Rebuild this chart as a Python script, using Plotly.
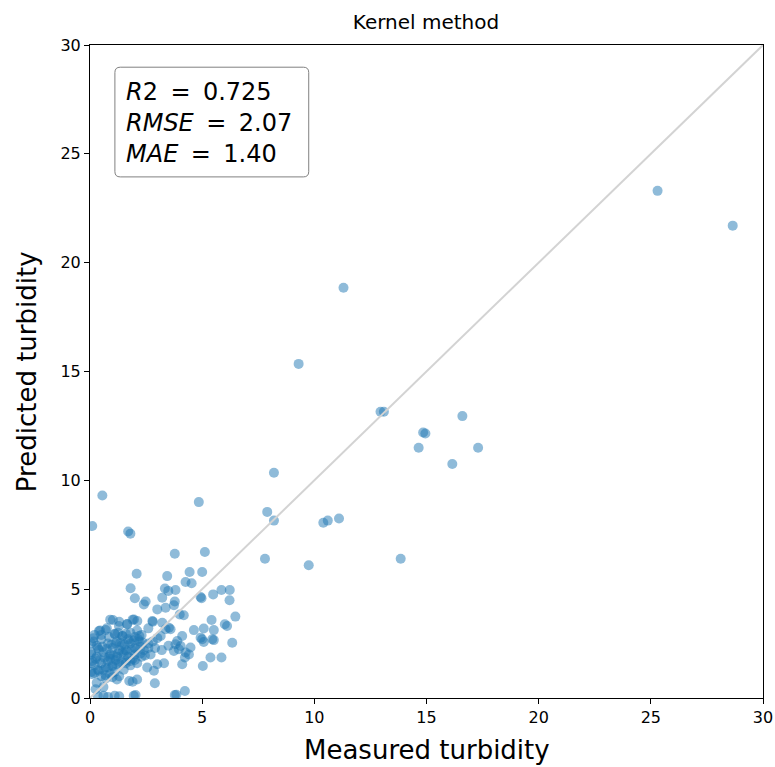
import plotly.graph_objects as go

# Measured (x) vs predicted (y) turbidity
measured = [
    25.3, 28.65, 11.3, 9.3, 12.95, 13.1, 16.6, 14.85, 14.95, 14.65, 17.3, 16.15, 8.2, 7.9, 8.2,
    10.4, 10.6, 11.1, 9.75, 7.8, 13.85, 0.1, 0.55, 4.85, 1.7, 1.8,
    3.78, 5.12, 2.08, 3.44, 4.44, 5.0, 4.26, 4.53, 1.81, 3.34, 3.49, 3.81, 2.0, 2.48, 3.22, 3.78,
    4.93, 4.97, 5.49, 5.86, 6.23, 6.22, 3.0, 3.37, 3.74, 4.0, 4.18, 2.78, 3.22, 3.52, 2.11, 1.02,
    1.29, 1.66, 0.4, 0.7, 1.11, 1.44, 5.42, 6.48, 6.01, 6.11, 4.63, 5.07, 5.52, 4.11, 5.0, 5.45,
    3.37, 3.59, 6.34, 3.81, 4.04, 4.48, 4.26, 4.41, 5.37, 5.86, 4.11, 5.03, 2.89, 4.23, 3.78, 2.03,
    3.89, 4.93, 5.07, 5.52, 3.96, 4.23, 2.4, 1.96, 3.15, 3.74,
    0.9, 1.3, 1.65, 0.45, 0.75, 1.1, 1.45, 1.9, 2.1, 2.3, 2.8, 2.6, 1.8, 2.0,
    0.15, 0.3, 0.5, 0.8, 1.0, 1.2, 1.4, 1.6, 1.8, 2.0, 2.2, 2.4, 2.6, 2.8, 3.0, 2.0, 1.7, 1.5,
    1.2, 0.9, 0.6, 0.3, 0.1, 0.2, 0.5, 0.8, 1.0, 1.3, 1.6, 1.9, 2.1, 2.3, 2.55, 2.85, 3.0, 3.3,
    0.05, 0.4, 0.7, 1.1, 1.5, 1.8, 2.7, 3.2, 3.5, 2.9, 1.3, 0.9, 0.35,
    0.1, 0.3, 0.5, 0.7, 0.9, 1.2, 1.3, 1.75, 1.9, 2.1, 0.25, 0.6,
    0.35, 0.6, 0.8, 1.1, 1.3, 1.95, 3.85, 0.2, 1.6, 2.25, 2.45, 1.15,
    0.05, 0.05, 0.05, 0.05, 0.25, 0.45, 0.65, 0.85, 1.05, 1.25, 1.45, 1.65, 1.85, 2.05, 2.25,
    0.35, 0.55, 0.75, 0.95, 1.15, 1.35, 1.55, 1.75, 1.95, 2.15, 2.35, 0.2, 0.4, 0.6, 0.8,
    1.0, 1.2, 1.4, 1.6, 1.8, 2.0, 0.15, 0.5, 0.85, 1.25, 1.7, 2.2, 2.6, 0.7, 1.0,
]
predicted = [
    23.3, 21.7, 18.85, 15.35, 13.15, 13.15, 12.95, 12.2, 12.15, 11.5, 11.5, 10.75, 10.35, 8.55, 8.15,
    8.05, 8.15, 8.25, 6.1, 6.4, 6.4, 7.9, 9.3, 9.0, 7.65, 7.55,
    6.63, 6.71, 5.71, 5.6, 5.79, 5.79, 5.33, 5.27, 5.04, 5.03, 4.92, 4.96, 4.58, 4.43, 4.61, 4.43,
    4.64, 4.58, 4.76, 4.96, 4.96, 4.49, 4.07, 4.15, 4.26, 3.84, 3.8, 3.54, 3.46, 3.23, 3.54, 3.58,
    3.31, 3.39, 3.08, 3.12, 2.93, 2.85, 3.58, 3.74, 3.39, 3.31, 3.12, 3.19, 3.12, 2.85, 2.7, 2.7,
    3.16, 3.16, 2.54, 2.47, 2.39, 2.32, 2.09, 2.0, 1.86, 1.86, 1.55, 1.47, 0.68, 0.32, 0.14, 0.14,
    2.62, 2.77, 2.57, 2.66, 2.24, 1.86, 4.3, 3.61, 2.85, 2.16,
    3.6, 3.5, 3.4, 3.1, 3.2, 2.95, 2.85, 3.6, 3.1, 2.9, 3.5, 3.2, 3.0, 2.8,
    2.6, 2.4, 2.7, 2.5, 2.3, 2.6, 2.4, 2.2, 2.5, 2.3, 2.6, 2.2, 2.5, 2.6, 2.75, 2.0, 1.9, 2.0,
    1.9, 2.0, 2.1, 1.9, 1.7, 1.5, 1.6, 1.7, 1.5, 1.6, 1.7, 1.8, 1.6, 1.9, 1.4, 1.25, 1.55, 1.6,
    2.1, 2.2, 1.4, 1.2, 1.3, 1.5, 2.0, 2.2, 2.4, 2.3, 2.2, 1.8, 1.3,
    1.1, 0.7, 1.0, 0.9, 1.1, 0.85, 1.0, 0.78, 0.75, 0.85, 0.4, 0.5,
    0.1, 0.1, 0.05, 0.1, 0.08, 0.1, 0.15, 2.9, 2.95, 2.05, 1.95, 1.75,
    1.2, 1.6, 2.0, 2.5, 1.8, 1.75, 1.85, 1.9, 1.95, 2.05, 2.1, 2.15, 2.2, 2.25, 2.35,
    2.3, 2.35, 2.25, 2.45, 2.5, 2.55, 2.45, 2.6, 2.65, 2.7, 2.55, 1.15, 1.25, 1.3, 1.4,
    1.45, 1.55, 1.65, 1.6, 1.7, 1.75, 2.75, 2.9, 2.8, 3.0, 2.7, 2.85, 2.3, 1.05, 0.95,
]

identity_x = [0, 30]
identity_y = [0, 30]

axis_ticks = [0, 5, 10, 15, 20, 25, 30]
title_text = "Kernel method"
x_label = "Measured turbidity"
y_label = "Predicted turbidity"
EQ = " \u2009=\u2009 "
stats_text = f"<i>R</i>2{EQ}0.725<br><i>RMSE</i>{EQ}2.07<br><i>MAE</i>{EQ}1.40"

FONT = "DejaVu Sans"

fig = go.Figure()
fig.add_trace(go.Scatter(
    x=measured, y=predicted, mode="markers",
    marker=dict(size=10, color="#1f77b4", opacity=0.5, line=dict(width=0)),
    showlegend=False, hoverinfo="x+y",
))
fig.add_trace(go.Scatter(
    x=identity_x, y=identity_y, mode="lines",
    line=dict(color="lightgray", width=2),
    showlegend=False, hoverinfo="skip",
))

axis_common = dict(
    range=[0, 30], tickvals=axis_ticks, ticks="outside", ticklen=5, tickwidth=1,
    tickcolor="black", showline=True, linecolor="black", linewidth=1, mirror=True,
    showgrid=False, zeroline=False, automargin=False,
    tickfont=dict(family=FONT, size=16, color="black"),
)
fig.update_xaxes(**axis_common)
fig.update_yaxes(**axis_common)

# axis titles placed as annotations for exact positioning
fig.add_annotation(text=x_label, xref="paper", yref="paper", x=0.5, y=-0.0796,
                   xanchor="center", yanchor="middle", showarrow=False,
                   font=dict(family=FONT, size=26, color="black"))
fig.add_annotation(text=y_label, xref="paper", yref="paper", x=-0.0936, y=0.499,
                   xanchor="center", yanchor="middle", showarrow=False, textangle=-90,
                   font=dict(family=FONT, size=26, color="black"))

# rounded stats box (paper coords)
x0, x1, y0, y1 = 0.037, 0.325, 0.798, 0.966
rx, ry = 0.008, 0.008
path = (f"M {x0+rx},{y1} L {x1-rx},{y1} Q {x1},{y1} {x1},{y1-ry} L {x1},{y0+ry} "
        f"Q {x1},{y0} {x1-rx},{y0} L {x0+rx},{y0} Q {x0},{y0} {x0},{y0+ry} "
        f"L {x0},{y1-ry} Q {x0},{y1} {x0+rx},{y1} Z")
fig.add_shape(type="path", path=path, xref="paper", yref="paper",
              line=dict(color="#808080", width=1), fillcolor="rgba(255,255,255,0.8)", layer="above")
fig.add_annotation(
    text=stats_text, xref="paper", yref="paper", x=0.05, y=0.952,
    xanchor="left", yanchor="top", align="left", showarrow=False,
    font=dict(family=FONT, size=24, color="black"),
)

fig.update_layout(
    width=775, height=767,
    margin=dict(l=90, r=12, t=45, b=69, autoexpand=False),
    paper_bgcolor="white", plot_bgcolor="white",
    title=dict(text=title_text, x=426 / 775, xanchor="center", y=1 - 22 / 767, yanchor="middle",
               font=dict(family=FONT, size=20, color="black")),
    font=dict(family=FONT),
)

fig.write_html("out.html")
